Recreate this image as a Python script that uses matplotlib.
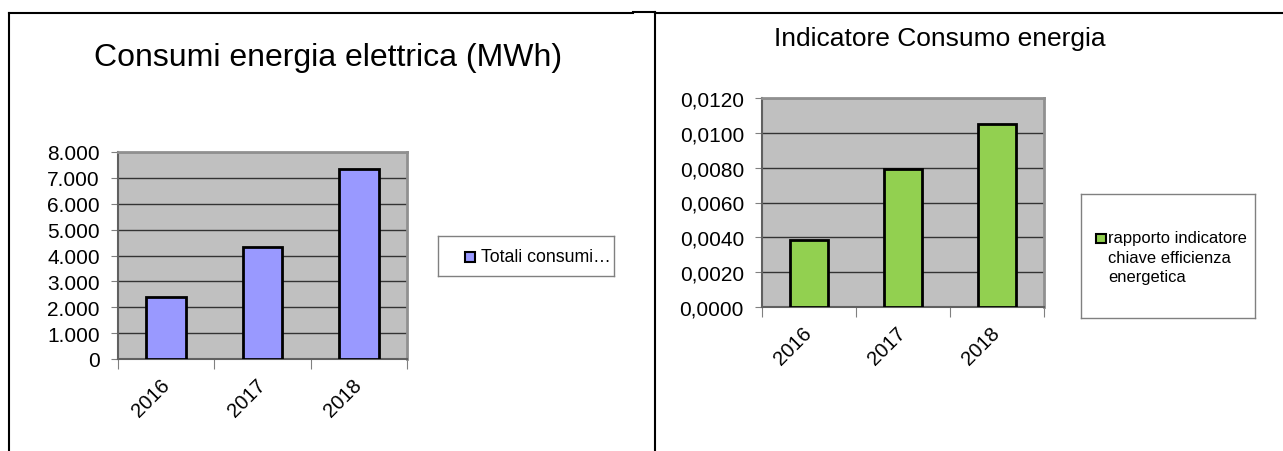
import matplotlib.pyplot as plt
from matplotlib.lines import Line2D
from matplotlib.ticker import FuncFormatter

plt.rcParams['font.family'] = ['Liberation Sans', 'DejaVu Sans']

years = ['2016', '2017', '2018']
consumi = [2390, 4310, 7330]
indicatore = [0.00387, 0.00792, 0.01049]

W, H = 1283, 452
fig = plt.figure(figsize=(W / 100, H / 100), dpi=100)


def box(x0, y0, x1, y1):
    # pixel coords (top-left origin) -> figure fraction
    return [x0 / W, 1 - y1 / H, (x1 - x0) / W, (y1 - y0) / H]


def px(x, y):
    return x / W, 1 - y / H


def bar_panel(rect, vals, color, ymax, step, fmt, fs, xfs):
    ax = fig.add_axes(rect)
    ax.set_facecolor('#C0C0C0')
    x = range(len(vals))
    ax.bar(x, vals, width=0.41, color=color, edgecolor='black', linewidth=2, zorder=3)
    ax.set_xlim(-0.5, len(vals) - 0.5)
    ax.set_ylim(0, ymax)
    ax.set_yticks([i * step for i in range(int(round(ymax / step)) + 1)])
    ax.yaxis.set_major_formatter(FuncFormatter(fmt))
    ax.grid(axis='y', color='#333333', linewidth=1, zorder=1)
    ax.set_axisbelow(True)
    ax.set_xticks([i + 0.5 for i in range(-1, len(vals))])
    ax.set_xticklabels([])
    ax.set_xticks(list(x), minor=True)
    ax.set_xticklabels(years, minor=True, rotation=45, ha='right', va='center',
                       rotation_mode='anchor', fontsize=xfs)
    ax.tick_params(axis='x', which='major', length=7, direction='out', color='#808080')
    ax.tick_params(axis='x', which='minor', length=0, pad=16)
    ax.tick_params(axis='y', length=5, direction='out', color='#808080', labelsize=fs, pad=8)
    for s in ['top', 'right']:
        ax.spines[s].set_color('#909090')
        ax.spines[s].set_linewidth(2)
    for s in ['left', 'bottom']:
        ax.spines[s].set_color('#606060')
        ax.spines[s].set_linewidth(1.5)
    return ax


ax1 = bar_panel(box(118, 153, 407, 360), consumi, '#9999FF', 8000, 1000,
                lambda v, p: '0' if v == 0 else f'{int(v):,}'.replace(',', '.'), 15, 14.5)
ax2 = bar_panel(box(762, 99, 1044, 308), indicatore, '#92D050', 0.012, 0.002,
                lambda v, p: f'{v:.4f}'.replace('.', ','), 15, 14.5)

# titles
fig.text(*px(328, 58), 'Consumi energia elettrica (MWh)', ha='center', va='center', fontsize=23)
fig.text(*px(940, 39), 'Indicatore Consumo energia', ha='center', va='center', fontsize=19)

# legends
lg1 = fig.add_axes(box(438, 237, 614, 277))
lg2 = fig.add_axes(box(1081, 195, 1255, 319))
for lg in (lg1, lg2):
    lg.set_xticks([])
    lg.set_yticks([])
    for s in lg.spines.values():
        s.set_color('#808080')
        s.set_linewidth(1)
fig.add_artist(plt.Rectangle(px(465, 263), 10 / W, 10 / H, transform=fig.transFigure,
                             facecolor='#9999FF', edgecolor='black', linewidth=1.5))
fig.text(*px(481, 258), 'Totali consumi…', va='center', fontsize=12.8)
fig.add_artist(plt.Rectangle(px(1096, 244), 10 / W, 9 / H, transform=fig.transFigure,
                             facecolor='#92D050', edgecolor='black', linewidth=1.5))
fig.text(*px(1108, 239), 'rapporto indicatore', va='center', fontsize=11.9)
fig.text(*px(1108, 259), 'chiave efficienza', va='center', fontsize=11.9)
fig.text(*px(1108, 278), 'energetica', va='center', fontsize=11.9)


# panel frame lines
def fline(xs, ys, lw=1.5):
    fig.add_artist(Line2D([x / W for x in xs], [1 - y / H for y in ys], color='black', linewidth=lw))


fline([9, 633], [14, 14])
fline([633, 655], [13, 13])
fline([9, 9], [14, 452])
fline([655, 655], [13, 452])
fline([655, 1283], [14, 14])

fig.savefig('out.png', dpi=100)
